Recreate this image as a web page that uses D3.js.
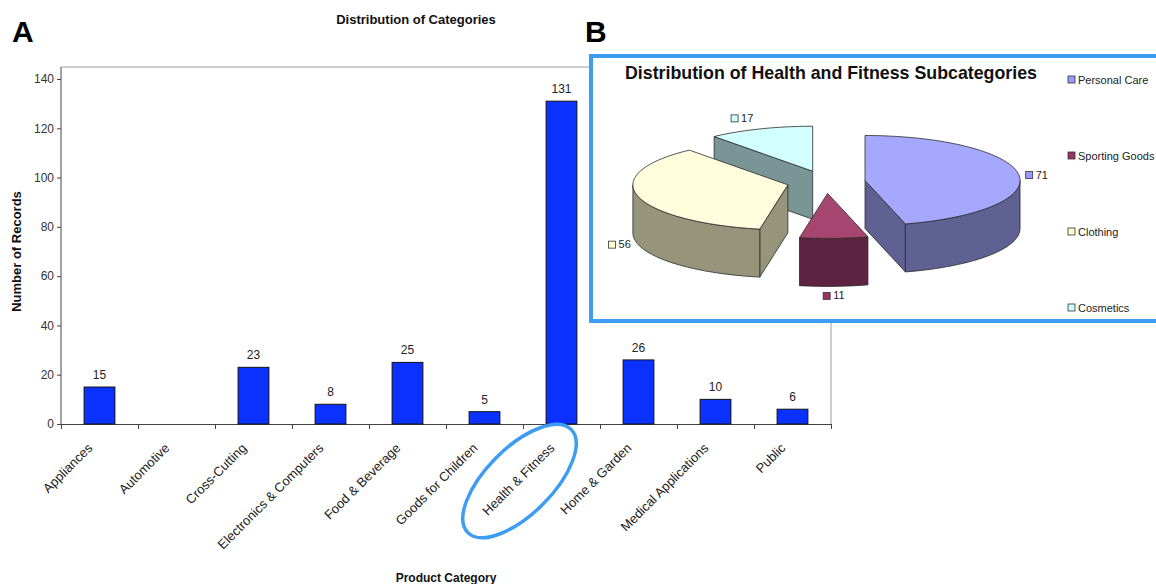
<!DOCTYPE html>
<html>
<head>
<meta charset="utf-8">
<script src="https://cdn.jsdelivr.net/npm/d3@7"></script>
<style>
  body { margin: 0; background: #fff; }
  svg { display: block; font-family: Arial, "Liberation Sans", sans-serif; }
</style>
</head>
<body>
<div id="chart"></div>
<script>
// data, panel A
var categories = ["Appliances", "Automotive", "Cross-Cutting", "Electronics & Computers",
  "Food & Beverage", "Goods for Children", "Health & Fitness", "Home & Garden",
  "Medical Applications", "Public"];
var records = [15, 0, 23, 8, 25, 5, 131, 26, 10, 6];
var yTicks = [0, 20, 40, 60, 80, 100, 120, 140];

// data, panel B
var subcategories = ["Personal Care", "Sporting Goods", "Clothing", "Cosmetics"];
var subValues = [71, 11, 56, 17];
var subColors = ["#9999ff", "#993366", "#ffffcc", "#ccffff"];
var subTops = ["#a6a7fe", "#a6456f", "#fffddb", "#d3feff"];
var subSides = ["#5f6193", "#5e2340", "#96947a", "#7a9595"];

var W = 1156, H = 584;
var svg = d3.select("#chart").append("svg").attr("width", W).attr("height", H);

// ---------------- panel A : bar chart ----------------
var plotL = 61, plotR = 831, plotT = 79, plotB = 424, frameT = 67;

var x = d3.scaleBand().domain(categories).range([plotL, plotR])
  .paddingInner(0.6).paddingOuter(0.3);
var y = d3.scaleLinear().domain([0, 140]).range([plotB, plotT]);
var xb = d3.scaleLinear().domain([0, categories.length]).range([plotL, plotR]);

var barData = categories.map(function(c, i) { return {cat: c, value: records[i]}; });

// frame (top and right)
svg.append("line").attr("x1", plotL).attr("x2", plotR).attr("y1", frameT).attr("y2", frameT)
  .attr("stroke", "#9a9a9a");
svg.append("line").attr("x1", plotR).attr("x2", plotR).attr("y1", frameT).attr("y2", plotB)
  .attr("stroke", "#9a9a9a");

var yAxis = svg.append("g").attr("transform", "translate(" + plotL + ",0)")
  .call(d3.axisLeft(y).tickValues(yTicks).tickSize(4).tickSizeOuter(0));
yAxis.select(".domain").attr("d", "M0," + frameT + "V" + plotB);
yAxis.selectAll("path,line").attr("stroke", "#444");
yAxis.selectAll("text").attr("fill", "#333").style("font-size", "12px");

var xAxis = svg.append("g").attr("transform", "translate(0," + plotB + ")")
  .call(d3.axisBottom(xb).tickValues(d3.range(categories.length + 1))
    .tickFormat("").tickSize(5).tickSizeOuter(0));
xAxis.selectAll("path,line").attr("stroke", "#444");

var nonZero = barData.filter(function(d) { return d.value > 0; });

svg.selectAll(".bar").data(nonZero).join("rect")
  .attr("class", "bar")
  .attr("x", function(d) { return x(d.cat); })
  .attr("width", x.bandwidth())
  .attr("y", function(d) { return y(d.value); })
  .attr("height", function(d) { return plotB - y(d.value); })
  .attr("fill", "#0a31ff")
  .attr("stroke", "#111").attr("stroke-width", 1);

svg.selectAll(".val").data(nonZero).join("text")
  .attr("class", "val")
  .attr("x", function(d) { return x(d.cat) + x.bandwidth() / 2; })
  .attr("y", function(d) { return y(d.value) - 8; })
  .attr("text-anchor", "middle").attr("fill", "#222").style("font-size", "12px")
  .text(function(d) { return d.value; });

svg.selectAll(".cat").data(categories).join("text")
  .attr("class", "cat")
  .attr("transform", function(d) {
    return "translate(" + (x(d) + x.bandwidth() / 2 - 13) + "," + (plotB + 18) + ") rotate(-45)";
  })
  .attr("text-anchor", "end").attr("dominant-baseline", "hanging")
  .attr("fill", "#222").style("font-size", "13px")
  .text(function(d) { return d; });

svg.append("text").attr("x", (plotL + plotR) / 2).attr("y", 582)
  .attr("text-anchor", "middle").style("font-size", "12px").style("font-weight", "bold")
  .attr("fill", "#111").text("Product Category");

svg.append("text").attr("transform", "translate(21," + (plotT + plotB) / 2 + ") rotate(-90)")
  .attr("text-anchor", "middle").style("font-size", "13px").style("font-weight", "bold")
  .attr("fill", "#111").text("Number of Records");

svg.append("text").attr("x", 416).attr("y", 24)
  .attr("text-anchor", "middle").style("font-size", "13px").style("font-weight", "bold")
  .attr("fill", "#111").text("Distribution of Categories");

// highlight ring round "Health & Fitness"
var hx = x("Health & Fitness") + x.bandwidth() / 2;
svg.append("ellipse").attr("cx", hx - 42).attr("cy", 481).attr("rx", 73).attr("ry", 33)
  .attr("transform", "rotate(-45," + (hx - 42) + ",481)")
  .attr("fill", "none").attr("stroke", "#3d9df3").attr("stroke-width", 3.5);

// panel letters
svg.append("text").attr("x", 12).attr("y", 42).style("font-size", "30px")
  .style("font-weight", "bold").attr("fill", "#000").text("A");
svg.append("text").attr("x", 585).attr("y", 42).style("font-size", "30px")
  .style("font-weight", "bold").attr("fill", "#000").text("B");

// ---------------- panel B : 3D exploded pie ----------------
svg.append("rect").attr("x", 591).attr("y", 56).attr("width", 600).attr("height", 265)
  .attr("fill", "#fff").attr("stroke", "#3d9df3").attr("stroke-width", 4);

svg.append("text").attr("x", 625).attr("y", 79)
  .style("font-size", "17.8px").style("font-weight", "bold").attr("fill", "#111")
  .text("Distribution of Health and Fitness Subcategories");

var cx0 = 826, cy0 = 182, rx = 155, ry = 45, depth = 48, explode = 0.254;
var arcs = d3.pie().sort(null).startAngle(0).endAngle(2 * Math.PI)(subValues);

function pt(c, a, dz) {
  return [c[0] + rx * Math.sin(a), c[1] - ry * Math.cos(a) + (dz || 0)];
}
function arcPts(c, a0, a1, dz) {
  var n = Math.max(2, Math.ceil((a1 - a0) / 0.03)), out = [];
  for (var k = 0; k <= n; k++) out.push(pt(c, a0 + (a1 - a0) * k / n, dz));
  return out;
}
var line = d3.line();

var slices = arcs.map(function(a, i) {
  var m = (a.startAngle + a.endAngle) / 2;
  return {
    i: i, a0: a.startAngle, a1: a.endAngle, m: m, value: a.data,
    c: [cx0 + explode * rx * Math.sin(m), cy0 - explode * ry * Math.cos(m)]
  };
});

var pieG = svg.append("g");
slices.slice().sort(function(p, q) { return p.c[1] - q.c[1]; }).forEach(function(s) {
  var g = pieG.append("g");
  var sty = function(sel, fill) {
    sel.attr("fill", fill).attr("stroke", "#2a2a2a").attr("stroke-width", 0.8)
      .attr("stroke-linejoin", "round");
  };
  // radial cut faces that face the viewer
  [[s.a0, s.a0 - Math.PI / 2], [s.a1, s.a1 + Math.PI / 2]].forEach(function(f) {
    if (Math.cos(f[1]) < -0.01) {
      var p = pt(s.c, f[0]);
      g.append("path").call(sty, subSides[s.i])
        .attr("d", line([s.c, p, [p[0], p[1] + depth], [s.c[0], s.c[1] + depth]]) + "Z");
    }
  });
  // outer wall on the front half
  var w0 = Math.max(s.a0, Math.PI / 2), w1 = Math.min(s.a1, 3 * Math.PI / 2);
  if (w1 > w0) {
    var topArc = arcPts(s.c, w0, w1, 0), botArc = arcPts(s.c, w0, w1, depth).reverse();
    g.append("path").call(sty, subSides[s.i]).attr("d", line(topArc.concat(botArc)) + "Z");
  }
  // top face
  g.append("path").call(sty, subTops[s.i])
    .attr("d", line([s.c].concat(arcPts(s.c, s.a0, s.a1, 0))) + "Z");
});

// value labels with key squares
slices.forEach(function(s) {
  var sx = Math.sin(s.m), sy = -Math.cos(s.m);
  var p = pt(s.c, s.m, sy > 0 ? depth : 0);
  var g = svg.append("g");
  g.append("rect").attr("x", 0).attr("y", -7).attr("width", 7).attr("height", 7)
    .attr("fill", subColors[s.i]).attr("stroke", "#333").attr("stroke-width", 0.8);
  g.append("text").attr("x", 10).attr("y", 0).style("font-size", "11px")
    .attr("fill", "#222").text(s.value);
  var bb = g.node().getBBox();
  var gap = 7, tx, ty;
  if (sx > 0.3) tx = p[0] + gap - bb.x;
  else if (sx < -0.3) tx = p[0] - gap - (bb.x + bb.width);
  else tx = p[0] - (bb.x + bb.width / 2);
  if (sy > 0.3) ty = p[1] + 3 - bb.y;
  else if (sy < -0.3) ty = p[1] - 5 - (bb.y + bb.height);
  else ty = p[1] - (bb.y + bb.height / 2);
  g.attr("transform", "translate(" + tx + "," + ty + ")");
});

// legend
var legendY = d3.scalePoint().domain(subcategories).range([80, 308]);
var lg = svg.selectAll(".leg").data(subcategories).join("g")
  .attr("class", "leg")
  .attr("transform", function(d) { return "translate(1068," + legendY(d) + ")"; });
lg.append("rect").attr("x", 0).attr("y", -4).attr("width", 7).attr("height", 7)
  .attr("fill", function(d, i) { return subColors[i]; })
  .attr("stroke", "#333").attr("stroke-width", 0.8);
lg.append("text").attr("x", 10).attr("y", 4).style("font-size", "11px")
  .attr("fill", "#222").text(function(d) { return d; });
</script>
</body>
</html>
